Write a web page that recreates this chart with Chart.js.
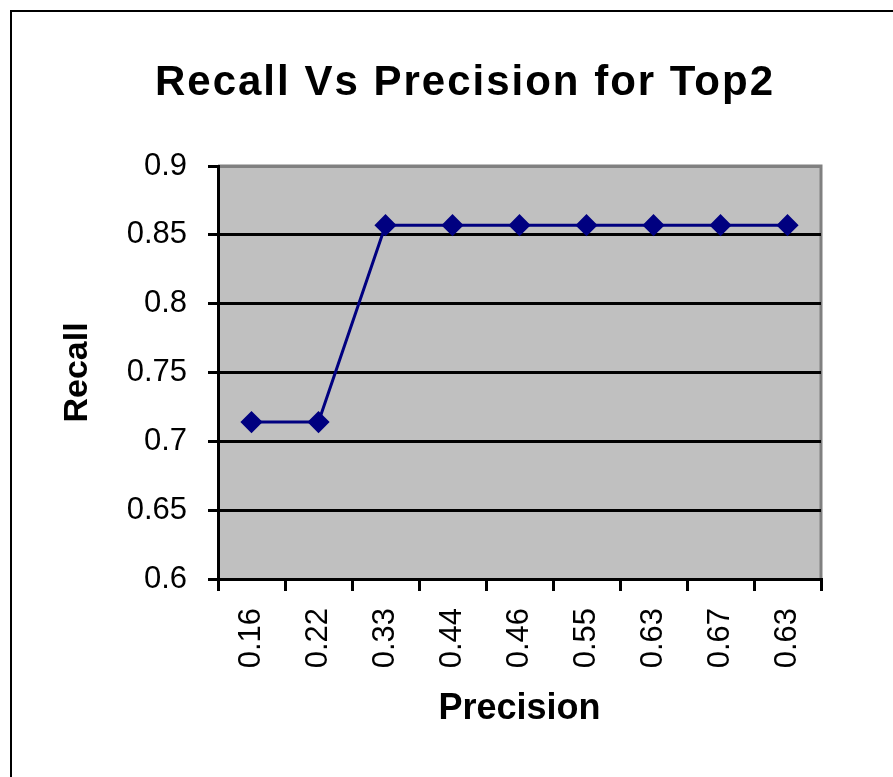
<!DOCTYPE html>
<html>
<head>
<meta charset="utf-8">
<script src="https://cdn.jsdelivr.net/npm/chart.js@4.4.1/dist/chart.umd.min.js"></script>
<style>
html,body{margin:0;padding:0;background:#fff;}
canvas{display:block;}
</style>
</head>
<body>
<canvas id="c" width="893" height="777"></canvas>
<script>
const categories = ['0.16', '0.22', '0.33', '0.44', '0.46', '0.55', '0.63', '0.67', '0.63'];
const recall = [0.714, 0.714, 0.857, 0.857, 0.857, 0.857, 0.857, 0.857, 0.857];
const yTickLabels = ['0.6', '0.65', '0.7', '0.75', '0.8', '0.85', '0.9'];
const titleText = 'Recall Vs Precision for Top2';
const xTitle = 'Precision';
const yTitle = 'Recall';

const FONT = '"Liberation Sans", Arial, sans-serif';
Chart.defaults.color = '#000';
Chart.defaults.font.family = FONT;

const framePlugin = {
  id: 'frame',
  afterLayout(chart) {
    const tb = chart.titleBlock;
    if (tb) {
      tb.left = 37;
      tb.right = 893;
      if (!tb._wrapped) {
        const orig = tb.draw.bind(tb);
        tb.draw = function () {
          const ctx = chart.ctx;
          const prev = ctx.letterSpacing;
          ctx.letterSpacing = '2px';
          orig();
          ctx.letterSpacing = prev || '0px';
        };
        tb._wrapped = true;
      }
    }
  },
  beforeDraw(chart) {
    const {ctx, chartArea: a} = chart;
    ctx.save();
    ctx.fillStyle = '#c0c0c0';
    ctx.fillRect(a.left, a.top, a.right - a.left, a.bottom - a.top);
    ctx.strokeStyle = '#808080';
    ctx.lineWidth = 3;
    ctx.beginPath();
    ctx.moveTo(a.left, a.top);
    ctx.lineTo(a.right, a.top);
    ctx.lineTo(a.right, a.bottom);
    ctx.stroke();
    ctx.restore();
  },
  afterDraw(chart) {
    const ctx = chart.ctx;
    ctx.save();
    ctx.fillStyle = '#000';
    ctx.fillRect(10, 10, 883, 2);
    ctx.fillRect(10, 10, 2, 767);
    ctx.restore();
  }
};

new Chart(document.getElementById('c'), {
  type: 'line',
  data: {
    labels: categories,
    datasets: [{
      data: recall,
      borderColor: '#000080',
      backgroundColor: '#000080',
      borderWidth: 3,
      pointStyle: 'rectRot',
      pointRadius: 9,
      pointBorderWidth: 3,
      pointBackgroundColor: '#000080',
      pointBorderColor: '#000080',
      tension: 0,
      fill: false
    }]
  },
  options: {
    responsive: false,
    animation: false,
    events: [],
    layout: {padding: {left: 0, right: 72, top: 0, bottom: 0}},
    plugins: {
      legend: {display: false},
      tooltip: {enabled: false},
      title: {
        display: true,
        text: titleText,
        color: '#000',
        font: {size: 42, weight: 'bold', family: FONT, lineHeight: 1.2},
        padding: {top: 58, bottom: 57.6}
      }
    },
    scales: {
      x: {
        type: 'category',
        offset: true,
        afterFit(s) { s.height = 198; },
        border: {display: true, color: '#000', width: 3},
        grid: {
          offset: true,
          drawOnChartArea: false,
          drawTicks: true,
          tickLength: 12,
          tickColor: '#000',
          tickWidth: 3,
          color: '#000',
          lineWidth: 3
        },
        ticks: {
          autoSkip: false,
          minRotation: 90,
          maxRotation: 90,
          padding: 17,
          color: '#000',
          font: {size: 31, family: FONT}
        },
        title: {
          display: true,
          text: xTitle,
          color: '#000',
          font: {size: 36, weight: 'bold', family: FONT, lineHeight: 1.2},
          padding: {top: 0, bottom: 46}
        }
      },
      y: {
        min: 0.6,
        max: 0.9,
        afterFit(s) { s.width = 218; },
        border: {display: true, color: '#000', width: 3},
        grid: {
          drawTicks: true,
          tickLength: 10,
          tickColor: '#000',
          tickWidth: 3,
          color: (c) => (c.index === yTickLabels.length - 1 ? '#808080' : '#000'),
          lineWidth: 3
        },
        ticks: {
          stepSize: 0.05,
          padding: 21,
          color: '#000',
          font: {size: 31, family: FONT},
          callback: (v, i) => yTickLabels[i]
        },
        title: {
          display: true,
          text: yTitle,
          color: '#000',
          font: {size: 34, weight: 'bold', family: FONT, lineHeight: 1.2},
          padding: {top: 57, bottom: 0}
        }
      }
    }
  },
  plugins: [framePlugin]
});
</script>
</body>
</html>
